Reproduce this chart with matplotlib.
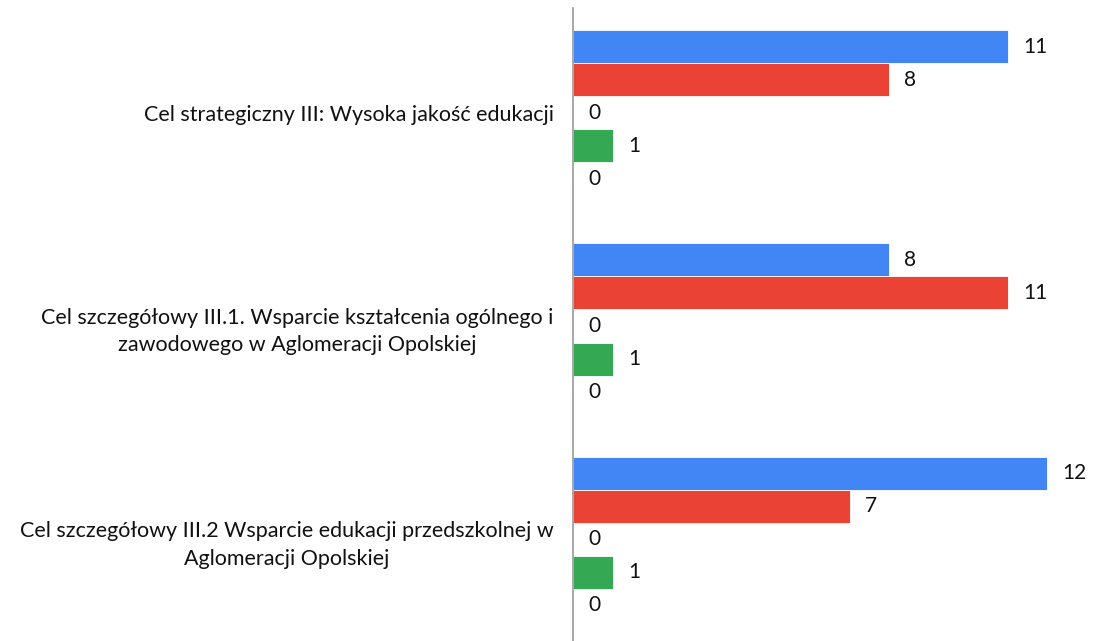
import matplotlib.pyplot as plt
import numpy as np

plt.rcParams['font.family'] = ['Lato', 'DejaVu Sans']

categories = [
    'Cel strategiczny III: Wysoka jakość edukacji',
    'Cel szczegółowy III.1. Wsparcie kształcenia ogólnego i\nzawodowego w Aglomeracji Opolskiej',
    'Cel szczegółowy III.2 Wsparcie edukacji przedszkolnej w\nAglomeracji Opolskiej',
]
s1 = [11, 8, 12]
s2 = [8, 11, 7]
s3 = [0, 0, 0]
s4 = [1, 1, 1]
s5 = [0, 0, 0]
series = [s1, s2, s3, s4, s5]
colors = ['#4285F4', '#EA4335', '#FBBC04', '#34A853', '#FF6D01']

fig = plt.figure(figsize=(10.94, 6.41), dpi=100)
ax = fig.add_axes([0.524, 0.0, 0.476, 633 / 641])

y = np.arange(len(categories))
bh = 33 / 213
for k, (vals, c) in enumerate(zip(series, colors)):
    pos = y + (k - 2) * bh
    ax.barh(pos, vals, height=bh, color=c, edgecolor='white', linewidth=0.6)
    for p, v in zip(pos, vals):
        ax.annotate(str(v), (v, p), xytext=(11, 0), textcoords='offset points',
                    va='center', ha='left', fontsize=15, color='#111111')

ax.set_xlim(0, 13.19)
ax.set_ylim(2.5 - 5 / 213, -0.5 + 2 / 213)
ax.set_yticks(y)
ax.set_yticklabels(categories, fontsize=15.5, multialignment='center',
                   linespacing=1.45, color='#111111')
ax.tick_params(axis='y', length=0, pad=14)
ax.set_xticks([])
for s in ['top', 'right', 'bottom']:
    ax.spines[s].set_visible(False)
ax.spines['left'].set_color('#999999')
ax.spines['left'].set_linewidth(1.2)

fig.savefig('out.png', dpi=100)
